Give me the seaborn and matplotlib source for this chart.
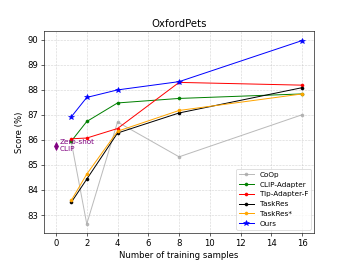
import numpy as np
import pandas as pd
import matplotlib
matplotlib.use("Agg")
import matplotlib.pyplot as plt
import seaborn as sns

# shots
shots = [1, 2, 4, 8, 16]

coop = [85.9, 82.64, 86.71, 85.32, 87.0]
clip_adapter = [85.95, 86.73, 87.47, 87.65, 87.83]
tip_adapter_f = [86.04, 86.07, 86.45, 88.29, 88.18]
taskres = [83.51, 84.43, 86.27, 87.07, 88.08]
taskres_star = [83.59, 84.63, 86.34, 87.17, 87.83]
ours = [86.92, 87.69, 87.99, 88.32, 89.96]

zero_shot_clip = 85.76

methods = ["CoOp", "CLIP-Adapter", "Tip-Adapter-F", "TaskRes", "TaskRes*", "Ours"]
series = [coop, clip_adapter, tip_adapter_f, taskres, taskres_star, ours]
colors = ["darkgray", "green", "red", "black", "orange", "blue"]
markers = ["o", "o", "o", "o", "o", "*"]

df = pd.DataFrame(
    [(m, s, v) for m, vals in zip(methods, series) for s, v in zip(shots, vals)],
    columns=["method", "shots", "score"],
)

plt.rcParams["font.size"] = 11.2

fig, ax = plt.subplots(figsize=(6.4, 4.8), dpi=54.6)

for m, c, mk in zip(methods, colors, markers):
    d = df[df["method"] == m]
    sns.lineplot(data=d, x="shots", y="score", ax=ax, color=c, marker=mk,
                 markersize=4 if mk == "o" else 7, markeredgecolor=c,
                 linewidth=1.3, label=m, alpha=0.8 if m == "CoOp" else 1.0)

# zero-shot CLIP
ax.plot(0, zero_shot_clip, marker="d", color="purple", markersize=7)
ax.text(0.22, zero_shot_clip, "Zero-shot\nCLIP", color="purple", fontsize=9.5, va="center")

ax.grid(True, linestyle="--", alpha=0.5)
ax.set_title("OxfordPets", fontsize=13.4)
ax.set_xlabel("Number of training samples")
ax.set_ylabel("Score (%)")
ax.set_xticks([0, 2, 4, 6, 8, 10, 12, 14, 16])
ax.legend(loc="lower right", fontsize=9.6)

plt.savefig("out.png", dpi=54.6)
